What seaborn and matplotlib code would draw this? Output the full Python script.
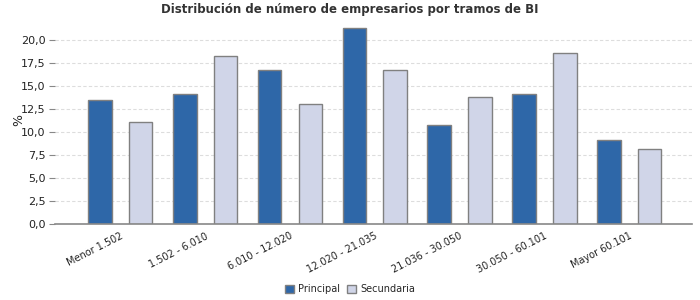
import matplotlib
matplotlib.use("Agg")
import matplotlib.pyplot as plt
import seaborn as sns
import pandas as pd
from matplotlib.ticker import FuncFormatter
from matplotlib.patches import Patch

categories = ["Menor 1.502", "1.502 - 6.010", "6.010 - 12.020", "12.020 - 21.035",
              "21.036 - 30.050", "30.050 - 60.101", "Mayor 60.101"]
principal = [13.5, 14.1, 16.7, 21.3, 10.8, 14.1, 9.1]
secundaria = [11.1, 18.2, 13.0, 16.7, 13.8, 18.6, 8.2]
series_names = ["Principal", "Secundaria"]
colors = ["#2e67a8", "#d0d5e8"]

df = pd.DataFrame({
    "tramo": categories * 2,
    "valor": principal + secundaria,
    "serie": [series_names[0]] * len(categories) + [series_names[1]] * len(categories),
})

sns.set_style("white")
plt.rcParams["font.family"] = ["DejaVu Sans"]

fig = plt.figure(figsize=(7, 3), dpi=100)
ax = fig.add_axes([0.0786, 0.2533, 0.91, 0.675])

sns.barplot(data=df, x="tramo", y="valor", hue="serie", order=categories,
            hue_order=series_names, palette=colors, width=0.96, gap=0.42,
            edgecolor="#808080", linewidth=1.0, saturation=1, ax=ax, legend=False)

ax.set_xlim(-0.77, 6.74)
ax.set_ylim(0, 22)
ax.set_yticks([0, 2.5, 5, 7.5, 10, 12.5, 15, 17.5, 20])
ax.yaxis.set_major_formatter(FuncFormatter(lambda v, p: f"{v:.1f}".replace(".", ",")))
ax.yaxis.grid(True, color="#dddddd", linestyle=(0, (3, 2)), linewidth=0.8)
ax.set_axisbelow(True)
for s in ["top", "right", "left"]:
    ax.spines[s].set_visible(False)
ax.spines["bottom"].set_color("#888888")
ax.spines["bottom"].set_linewidth(1.2)
ax.tick_params(axis="y", length=4, width=0.8, color="#888888", labelsize=8, labelcolor="#222222", pad=3, left=True)
ax.tick_params(axis="x", length=0, labelsize=7, labelcolor="#222222", pad=5)
plt.setp(ax.get_xticklabels(), rotation=27, ha="right", rotation_mode="anchor")
ax.set_xlabel("")
ax.set_ylabel("%", fontsize=9, color="#222222")
ax.yaxis.set_label_coords(-0.047, 0.514)

fig.suptitle("Distribución de número de empresarios por tramos de BI", x=0.5, y=0.99,
             fontsize=8.5, fontweight="bold", color="#333333")

handles = [Patch(facecolor=c, edgecolor="#808080", linewidth=1.0) for c in colors]
fig.legend(handles, series_names, loc="center", bbox_to_anchor=(0.5, 0.035), ncol=2,
           frameon=False, fontsize=7, handlelength=0.9, handleheight=0.9,
           handletextpad=0.4, columnspacing=0.8)

fig.savefig("out.png", dpi=100)
